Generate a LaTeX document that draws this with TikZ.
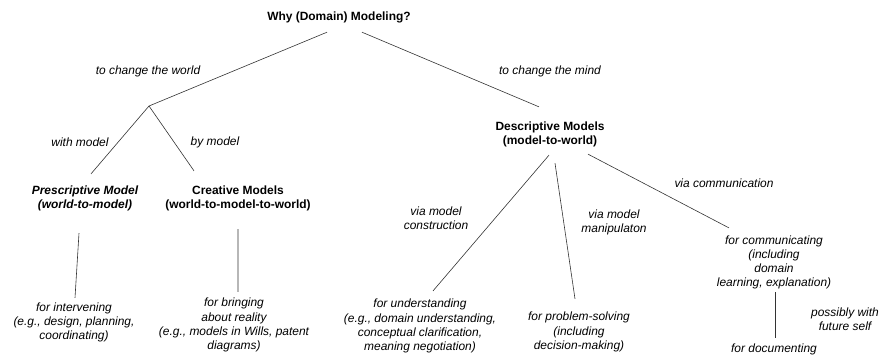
\documentclass[tikz,border=0pt]{standalone}
\usepackage{fontspec}
\setmainfont{Liberation Sans}
\usepackage{tikz}
\usetikzlibrary{positioning}

\tikzset{
  txt/.style={inner sep=0pt, align=center, font=\fontsize{12}{14.2}\selectfont\itshape},
  head/.style={inner sep=0pt, align=center, font=\fontsize{12}{14.2}\selectfont\bfseries},
  conn/.style={draw=black!80, line width=0.6bp}
}

\begin{document}
\begin{tikzpicture}[x=1bp, y=-1bp]
\useasboundingbox (0,0) rectangle (885,356);

\node[head] (why) at (339,17) {Why (Domain) Modeling?};
\node[txt] (world) at (148,71) {to change the world};
\node[txt] (mind) at (550,71) {to change the mind};
\coordinate (fork) at (149,106);
\node[txt] (with) at (80,142) {with model};
\node[txt] (by) at (215,142) {by model};

\node[head, font=\fontsize{12}{14.2}\selectfont\bfseries\itshape] (presc) at (85,198.5) {Prescriptive Model\\(world-to-model)};
\node[head] (creat) at (238,198.5) {Creative Models\\(world-to-model-to-world)};
\node[head] (descr) at (550,134) {Descriptive Models\\(model-to-world)};

\node[txt] (interv) at (74,322.5) {for intervening\\(e.g., design, planning,\\coordinating)};
\node[txt] (bring) at (234,325) {for bringing\\about reality\\(e.g., models in Wills, patent\\diagrams)};

\node[txt] (constr) at (436,218) {via model\\construction};
\node[txt] (manip) at (614,222) {via model\\manipulaton};
\node[txt] (comm) at (724,183) {via communication};

\node[txt] (under) at (420,326) {for understanding\\(e.g., domain understanding,\\conceptual clarification,\\meaning negotiation)};
\node[txt] (probl) at (579,332) {for problem-solving\\(including\\decision-making)};
\node[txt] (commun) at (774,262.5) {for communicating\\(including\\domain\\learning, explanation)};
\node[txt] (docum) at (774,349) {for documenting};
\node[txt] (future) at (845,319) {possibly with\\future self};

% Connectors
\draw[conn] ([xshift=-12bp,yshift=-9.4bp]why.south) -- (fork);
\draw[conn] ([xshift=23bp,yshift=-9.4bp]why.south) -- ([xshift=-11bp,yshift=14.3bp]descr.north);
\draw[conn] (fork) -- ([xshift=6bp,yshift=11.8bp]presc.north);
\draw[conn] (fork) -- ([xshift=-44bp,yshift=14.8bp]creat.north);
\draw[conn] ([xshift=-6bp,yshift=-21.8bp]presc.south) -- ([xshift=1bp,yshift=4.7bp]interv.north);
\draw[conn] ([yshift=-17.8bp]creat.south) -- ([xshift=4bp,yshift=6.1bp]bring.north);
\draw[conn] ([xshift=-1bp,yshift=-8.3bp]descr.south) -- ([xshift=13bp,yshift=8.1bp]under.north);
\draw[conn] ([xshift=5bp,yshift=-16.3bp]descr.south) -- ([xshift=-4bp,yshift=13.2bp]probl.north);
\draw[conn] ([xshift=38bp,yshift=-7.3bp]descr.south) -- ([xshift=-45bp,yshift=7.6bp]commun.north);
\draw[conn] ([xshift=1bp,yshift=-2.6bp]commun.south) -- ([xshift=1bp,yshift=5.4bp]docum.north);
\end{tikzpicture}
\end{document}
